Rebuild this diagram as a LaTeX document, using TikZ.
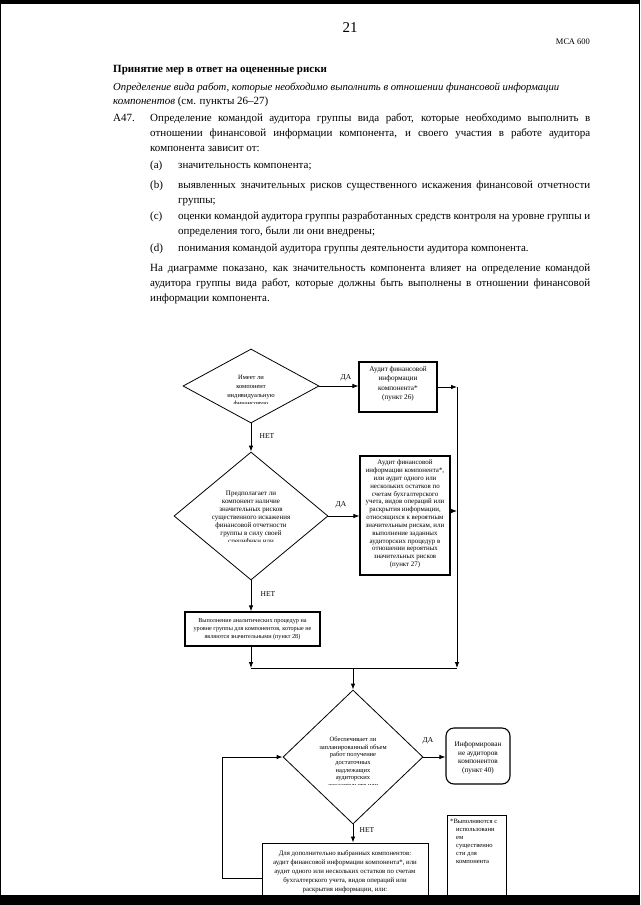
\documentclass[tikz,border=0pt]{standalone}
\usepackage{fontspec}
\setmainfont{Liberation Serif}
\usetikzlibrary{arrows.meta,shapes.geometric}
\newcommand\jline[2]{\makebox[#1][s]{#2}}
\begin{document}
\begin{tikzpicture}[x=1pt,y=-1pt,
  body/.style={inner sep=0pt, anchor=base west, font=\fontsize{11}{14}\selectfont},
  conn/.style={line width=0.8pt},
  arr/.style={conn, -{Latex[length=6pt,width=4.5pt]}},
  dia/.style={draw, diamond, line width=0.8pt, inner sep=0pt, aspect=1},
  fbox/.style={draw, line width=1.1pt, inner sep=0pt},
  lbl/.style={inner sep=0pt, font=\fontsize{7.5}{9}\selectfont},
  dtext/.style={inner sep=0pt, align=center},
]
\useasboundingbox (0,0) rectangle (640,905);
\fill[white] (0,0) rectangle (640,905);

% ---------- header ----------
\node[body, anchor=base, font=\fontsize{15}{18}\selectfont] (pg) at (350,32) {21};
\node[body, anchor=base east, font=\fontsize{8.5}{10}\selectfont] (mca) at (590,44) {МСА 600};
\node[body, font=\fontsize{11}{14}\selectfont\bfseries] (h1) at (113,72) {Принятие мер в ответ на оцененные риски};
\node[body, font=\fontsize{10.7}{14}\selectfont\itshape] (h2) at (113,90) {Определение вида работ, которые необходимо выполнить в отношении финансовой информации};
\node[body] (h3) at (113,104) {\textit{компонентов} (см. пункты 26–27)};

% ---------- A47 ----------
\node[body] (a47) at (113,121) {A47.};
\node[body] (p1) at (150,121) {\jline{440pt}{Определение командой аудитора группы вида работ, которые необходимо выполнить в}};
\node[body] (p2) at (150,136) {\jline{440pt}{отношении финансовой информации компонента, и своего участия в работе аудитора}};
\node[body] (p3) at (150,151) {компонента зависит от:};

\node[body] (la) at (150,168) {(a)};
\node[body] (ia) at (178,168) {значительность компонента;};
\node[body] (lb) at (150,188) {(b)};
\node[body] (ib1) at (178,188) {\jline{412pt}{выявленных значительных рисков существенного искажения финансовой отчетности}};
\node[body] (ib2) at (178,203) {группы;};
\node[body] (lc) at (150,219) {(c)};
\node[body] (ic1) at (178,219) {\jline{412pt}{оценки командой аудитора группы разработанных средств контроля на уровне группы и}};
\node[body] (ic2) at (178,234) {определения того, были ли они внедрены;};
\node[body] (ld) at (150,251) {(d)};
\node[body] (id) at (178,251) {понимания командой аудитора группы деятельности аудитора компонента.};

\node[body] (q1) at (150,271) {\jline{440pt}{На диаграмме показано, как значительность компонента влияет на определение командой}};
\node[body] (q2) at (150,286) {\jline{440pt}{аудитора группы вида работ, которые должны быть выполнены в отношении финансовой}};
\node[body] (q3) at (150,301) {информации компонента.};

% ---------- diagram: shapes ----------
\node[dia, minimum width=136pt, minimum height=74pt] (d1) at (251,386) {};
\begin{scope}
  \clip (183,340) rectangle (319,403);
  \node[dtext, font=\fontsize{6.5}{8.7}\selectfont] (t1) at (251,391.5) {Имеет ли\\компонент\\индивидуальную\\финансовую};
\end{scope}

\node[fbox, minimum width=78pt, minimum height=50pt] (bA) at (398,387) {};
\node[dtext, font=\fontsize{7.2}{9.5}\selectfont] (tA) at (398,384) {Аудит финансовой\\информации\\компонента*\\(пункт 26)};

\node[dia, minimum width=154pt, minimum height=128pt] (d2) at (251,516) {};
\begin{scope}
  \clip (175,450) rectangle (329,541);
  \node[dtext, font=\fontsize{7}{8}\selectfont] (t2) at (251,518) {Предполагает ли\\компонент наличие\\значительных рисков\\существенного искажения\\финансовой отчетности\\группы в силу своей\\специфики или};
\end{scope}

\node[fbox, minimum width=90pt, minimum height=119pt] (bB) at (405,515.5) {};
\node[dtext, font=\fontsize{6.9}{7.85}\selectfont] (tB) at (405,514) {Аудит финансовой\\информации компонента*,\\или аудит одного или\\нескольких остатков по\\счетам бухгалтерского\\учета, видов операций или\\раскрытия информации,\\относящихся к вероятным\\значительным рискам, или\\выполнение заданных\\аудиторских процедур в\\отношении вероятных\\значительных рисков\\(пункт 27)};

\node[fbox, line width=1.3pt, minimum width=135pt, minimum height=34pt] (bC) at (252.5,629) {};
\node[dtext, font=\fontsize{6.2}{8}\selectfont] (tC) at (252.5,629) {Выполнение аналитических процедур на\\уровне группы для компонентов, которые не\\являются значительными (пункт 28)};

\node[dia, minimum width=140pt, minimum height=134pt] (d3) at (353,757) {};
\begin{scope}
  \clip (283,690) rectangle (423,784);
  \node[dtext, font=\fontsize{6.5}{7.6}\selectfont] (t3) at (353,762.8) {Обеспечивает ли\\запланированный объем\\работ получение\\достаточных\\надлежащих\\аудиторских\\доказательств или};
\end{scope}

\node[fbox, rounded corners=8pt, minimum width=64pt, minimum height=56pt] (bD) at (478,756) {};
\node[dtext, font=\fontsize{7.2}{8.5}\selectfont] (tD) at (478,758) {Информирован\\ие аудиторов\\компонентов\\(пункт 40)};

\node[fbox, line width=0.9pt, minimum width=59pt, minimum height=82pt] (bE) at (476.5,856) {};
\node[inner sep=0pt, align=left, anchor=north west, font=\fontsize{6.6}{8}\selectfont] (tE) at (450,819) {*Выполняются с\\\hspace*{6pt}использовани\\\hspace*{6pt}ем\\\hspace*{6pt}существенно\\\hspace*{6pt}сти для\\\hspace*{6pt}компонента};

\node[fbox, line width=0.9pt, minimum width=166pt, minimum height=54pt] (bF) at (345,870) {};
\begin{scope}
  \clip (262,843) rectangle (428,894);
  \node[dtext, font=\fontsize{6.8}{9}\selectfont] (tF) at (345,872) {Для дополнительно выбранных компонентов:\\аудит финансовой информации компонента*, или\\аудит одного или нескольких остатков по счетам\\бухгалтерского учета, видов операций или\\раскрытия информации, или:};
\end{scope}

% ---------- connectors ----------
\coordinate (R1) at (457,387);
\coordinate (R2) at (457,668);
\coordinate (R3) at (457,511);
\coordinate (L2) at (251,668);
\coordinate (M) at (353,668);
\coordinate (LB) at (222,878);
\coordinate (LT) at (222,757);

\draw[arr] (d1.south) -- (d2.north);
\node[lbl] (n1) at (267,436) {НЕТ};
\draw[arr] (d1.east) -- (bA.west |- d1.east);
\node[lbl] (y1) at (346,378) {ДА};
\draw[arr] (bA.east |- R1) -- (R1);
\draw[arr] (R1) -- (R2);
\draw[arr] (bB.east |- R3) -- (R3);
\draw[arr] (d2.east) -- (bB.west |- d2.east);
\node[lbl] (y2) at (341,505) {ДА};
\draw[arr] (d2.south) -- (d2.south |- bC.north);
\node[lbl] (n2) at (268,594) {НЕТ};
\draw[arr] (d2.south |- bC.south) -- (L2);
\draw[conn] (L2) -- (R2);
\draw[arr] (M) -- (d3.north);
\draw[arr] (d3.east) -- (d3.east -| bD.west);
\node[lbl] (y3) at (428,741) {ДА};
\draw[arr] (d3.south) -- (d3.south |- bF.north);
\node[lbl] (n3) at (367,830) {НЕТ};
\draw[arr] (bF.west |- LB) -- (LB) -- (LT) -- (d3.west);

% ---------- scan edges ----------
\fill[black] (0,0) rectangle (640,3.5);
\fill[black] (0,895) rectangle (640,905);
\fill[black] (0,0) rectangle (1.2,905);
\fill[black] (638.8,0) rectangle (640,905);
\end{tikzpicture}
\end{document}
